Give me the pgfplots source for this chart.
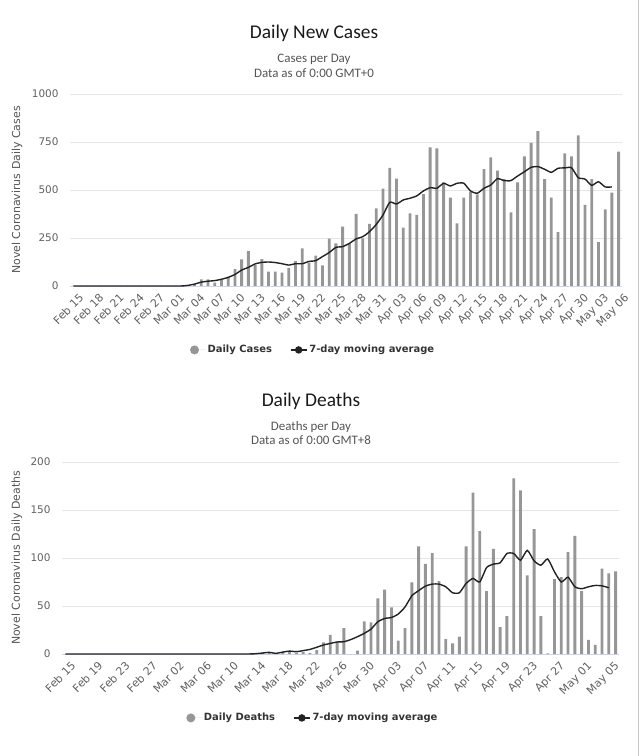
\documentclass[border=0pt]{standalone}
\usepackage{pgfplots}
\pgfplotsset{compat=1.18}
\usepackage{pgfplotstable}
\usepackage{fontspec}
\setmainfont{Carlito}
\newfontfamily\tickfont{DejaVu Sans}
\definecolor{bargray}{HTML}{969696}
\definecolor{txtgray}{HTML}{606060}
\definecolor{subgray}{HTML}{555555}
\definecolor{gridgray}{HTML}{E6E6E6}
\definecolor{axisblue}{HTML}{CCD6EB}
\definecolor{linecol}{HTML}{222222}
\definecolor{legtxt}{HTML}{333333}

\pgfplotstableread{
i v
0 0
1 0
2 0
3 0
4 0
5 0
6 0
7 0
8 0
9 0
10 0
11 0
12 0
13 0
14 0
15 0
16 0
17 2
18 10
19 35
20 35
21 17
22 30
23 48
24 88
25 139
26 182
27 110
28 140
29 75
30 75
31 70
32 95
33 130
34 196
35 122
36 158
37 108
38 247
39 222
40 309
41 222
42 375
43 248
44 323
45 404
46 507
47 615
48 559
49 304
50 378
51 370
52 479
53 722
54 717
55 540
56 460
57 326
58 460
59 491
60 477
61 609
62 670
63 601
64 556
65 384
66 540
67 675
68 746
69 807
70 556
71 460
72 281
73 691
74 675
75 785
76 422
77 557
78 229
79 399
80 486
81 700
}\casesbars

\pgfplotstableread{
i v
0 0
2 0
4 0
6 0
8 0
10 0
12 0
14 0
16 0
17 3
18 10
19 20
20 25
21 28
22 35
23 45
24 60
25 83
26 97
27 115
28 123
29 125
30 122
31 116
32 109
33 116
34 116
35 128
36 132
37 153
38 174
39 201
40 205
41 222
42 245
43 257
44 283
45 321
46 370
47 436
48 427
49 448
50 457
51 469
52 495
53 512
54 509
55 535
56 521
57 535
58 535
59 495
60 483
61 509
62 526
63 559
64 549
65 549
66 573
67 595
68 618
69 622
70 608
71 592
72 613
73 615
74 616
75 564
76 557
77 524
78 543
79 516
80 516
}\casesavg

\pgfplotstableread{
i v
0 0
1 0
2 0
3 0
4 0
5 0
6 0
7 0
8 0
9 0
10 0
11 0
12 0
13 0
14 0
15 0
16 0
17 0
18 0
19 0
20 0
21 0
22 0
23 0
24 0
25 0
26 0
27 0
28 1
29 1
30 2
31 1
32 2
33 3
34 1
35 2
36 1
37 4
38 12
39 20
40 13
41 27
42 0
43 3.5
44 34
45 33
46 58
47 67
48 48.5
49 14
50 27
51 74.5
52 112
53 94
54 105
55 76
56 15.6
57 11
58 18
59 112
60 168
61 128
62 65.5
63 109.5
64 28
65 39.5
66 183
67 170.5
68 82
69 130
70 39.5
71 0.7
72 78
73 80
74 106
75 123
76 65.5
77 14.6
78 9.4
79 89
80 84
81 86
}\deathsbars

\pgfplotstableread{
i v
0 0
4 0
8 0
12 0
16 0
20 0
24 0
27 0
28 0.3
29 1
30 1.7
31 0.7
32 2
33 3
34 2.4
35 3.5
36 4.8
37 7
38 9.4
39 11
40 12.5
41 12.8
42 15
43 18
44 21.5
45 26
46 33.6
47 37
48 38
49 41.6
50 49
51 60.6
52 66
53 70.7
54 72.8
55 72.8
56 70
57 63.8
58 63.8
59 73.5
60 78.7
61 75
62 90
63 93.6
64 95
65 104.7
66 104.7
67 97.7
68 108
69 97
70 92.5
71 99
72 85.6
73 75
74 80
75 70
76 68
77 70
78 71.4
79 71
80 69
}\deathsavg

\pgfplotsset{
  covid/.style={
    scale only axis,
    xmin=-0.5, xmax=81.5,
    ymin=0,
    axis lines*=left,
    x axis line style={draw=axisblue, line width=0.8bp},
    y axis line style={draw=none},
    major tick length=0pt,
    ymajorgrids,
    grid style={draw=gridgray, line width=0.8bp},
    /pgf/number format/assume math mode=true,
    /pgf/number format/1000 sep={},
    yticklabel style={font=\tickfont\fontsize{10.5}{12}\selectfont, text=txtgray, xshift=-8bp},
    xticklabel style={font=\tickfont\fontsize{11}{13}\selectfont, text=txtgray, rotate=45, anchor=north east, xshift=2bp, yshift=-5bp},
    clip=false,
    legend columns=2,
    legend style={draw=none, fill=none, font=\tickfont\bfseries\fontsize{10}{12}\selectfont, text=legtxt,
      anchor=center,
      /tikz/every even column/.append style={column sep=16bp}},
  },
  barleg/.style={legend image code/.code={\path (-2bp,0bp) -- (14bp,0bp); \fill[bargray] (3bp,0bp) circle (4.5bp);}},
  lineleg/.style={legend image code/.code={\draw[linecol, line width=1.4bp] (0bp,0bp) -- (16bp,0bp); \fill[linecol] (8bp,0bp) circle (3bp);}},
}

\begin{document}
\begin{tikzpicture}
\useasboundingbox (0,0) rectangle (640bp,756bp);
\draw[color=black!22, line width=1.5bp] (638.5bp,0bp) -- (638.5bp,756bp);

% ---- Top chart ----
\node[font=\fontsize{19.5}{22}\selectfont, text=black!90] at (314bp,723bp) {Daily New Cases};
\node[font=\fontsize{13}{15}\selectfont, text=subgray] at (314bp,697bp) {Cases per Day};
\node[font=\fontsize{13}{15}\selectfont, text=subgray] at (314bp,683bp) {Data as of 0:00 GMT+0};

\begin{axis}[covid,
  at={(70bp,470bp)}, anchor=south west,
  width=552bp, height=192bp,
  ymax=1000, ytick={0,250,500,750,1000},
  xtick={0,3,...,81},
  xticklabels={Feb 15,Feb 18,Feb 21,Feb 24,Feb 27,Mar 01,Mar 04,Mar 07,Mar 10,Mar 13,Mar 16,Mar 19,Mar 22,Mar 25,Mar 28,Mar 31,Apr 03,Apr 06,Apr 09,Apr 12,Apr 15,Apr 18,Apr 21,Apr 24,Apr 27,Apr 30,May 03,May 06},
  ylabel={Novel Coronavirus Daily Cases},
  every axis y label/.style={at={(axis description cs:-0.096,0.5)}, rotate=90, anchor=center, font=\tickfont\fontsize{11}{13}\selectfont, text=subgray},
  legend style={at={(axis description cs:0.44,-0.333)}},
]
\addplot[ybar, bar width=0.42, fill=bargray, draw=none, barleg] table[x=i,y=v] {\casesbars};
\addlegendentry{Daily Cases}
\addplot[linecol, line width=1.4bp, smooth, tension=0.35, no markers, lineleg] table[x=i,y=v] {\casesavg};
\addlegendentry{7-day moving average}
\end{axis}

% ---- Bottom chart ----
\node[font=\fontsize{19.5}{22}\selectfont, text=black!90] at (311bp,355bp) {Daily Deaths};
\node[font=\fontsize{13}{15}\selectfont, text=subgray] at (311bp,329bp) {Deaths per Day};
\node[font=\fontsize{13}{15}\selectfont, text=subgray] at (311bp,316bp) {Data as of 0:00 GMT+8};

\begin{axis}[covid,
  at={(62bp,102bp)}, anchor=south west,
  width=557bp, height=192bp,
  ymax=200, ytick={0,50,100,150,200},
  xtick={0,4,...,80},
  xticklabels={Feb 15,Feb 19,Feb 23,Feb 27,Mar 02,Mar 06,Mar 10,Mar 14,Mar 18,Mar 22,Mar 26,Mar 30,Apr 03,Apr 07,Apr 11,Apr 15,Apr 19,Apr 23,Apr 27,May 01,May 05},
  ylabel={Novel Coronavirus Daily Deaths},
  every axis y label/.style={at={(axis description cs:-0.081,0.5)}, rotate=90, anchor=center, font=\tickfont\fontsize{11}{13}\selectfont, text=subgray},
  legend style={at={(axis description cs:0.45,-0.333)}},
]
\addplot[ybar, bar width=0.42, fill=bargray, draw=none, barleg] table[x=i,y=v] {\deathsbars};
\addlegendentry{Daily Deaths}
\addplot[linecol, line width=1.4bp, smooth, tension=0.35, no markers, lineleg] table[x=i,y=v] {\deathsavg};
\addlegendentry{7-day moving average}
\end{axis}
\end{tikzpicture}
\end{document}
